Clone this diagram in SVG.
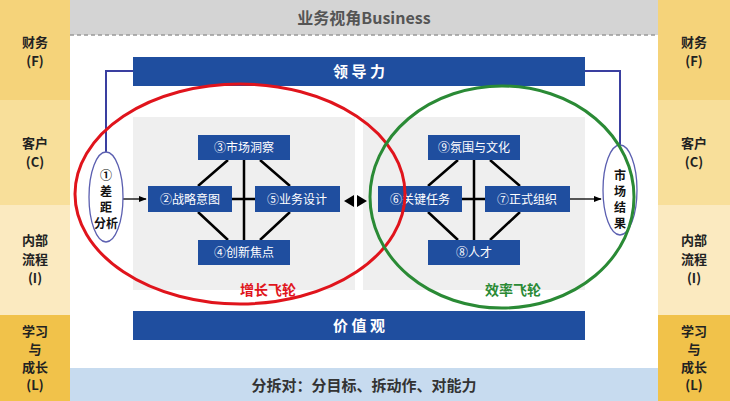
<svg xmlns="http://www.w3.org/2000/svg" width="730" height="401" viewBox="0 0 730 401">
<defs>
<marker id="ar" viewBox="0 0 10 10" refX="9" refY="5" markerWidth="6" markerHeight="6" orient="auto"><path d="M0,1L10,5L0,9z" fill="#000"/></marker>
<style>
text{font-family:"Noto Sans CJK SC","Noto Sans",sans-serif;font-weight:bold;text-anchor:middle}
.side{font-size:13px;fill:#222}
.nd{fill:#1f4e9f}
.nt{fill:#fff;font-size:12px;font-weight:normal}
.bar{fill:#1f4e9f}
.ln{stroke:#000;stroke-width:2.5}
.bl{stroke:#3a3fa0;stroke-width:2;fill:none}
</style>
</defs>
<rect width="730" height="401" fill="#fff"/>
<g id="left-col">
<rect x="0" y="0" width="70" height="100" fill="#f5d37a"/>
<rect x="0" y="100" width="70" height="105" fill="#f8df9a"/>
<rect x="0" y="205" width="70" height="110" fill="#fbeac0"/>
<rect x="0" y="315" width="70" height="86" fill="#f1c24a"/>
<text class="side" x="35" y="47">财务</text><text class="side" x="35" y="66">(F)</text>
<text class="side" x="35" y="148">客户</text><text class="side" x="35" y="167">(C)</text>
<text class="side" x="35" y="245">内部</text><text class="side" x="35" y="264">流程</text><text class="side" x="35" y="283">(I)</text>
<text class="side" x="35" y="336">学习</text><text class="side" x="35" y="354">与</text><text class="side" x="35" y="372">成长</text><text class="side" x="35" y="390">(L)</text>
</g>
<g id="right-col">
<rect x="658" y="0" width="72" height="100" fill="#f5d37a"/>
<rect x="658" y="100" width="72" height="105" fill="#f8df9a"/>
<rect x="658" y="205" width="72" height="110" fill="#fbeac0"/>
<rect x="658" y="315" width="72" height="86" fill="#f1c24a"/>
<text class="side" x="694" y="47">财务</text><text class="side" x="694" y="66">(F)</text>
<text class="side" x="694" y="148">客户</text><text class="side" x="694" y="167">(C)</text>
<text class="side" x="694" y="245">内部</text><text class="side" x="694" y="264">流程</text><text class="side" x="694" y="283">(I)</text>
<text class="side" x="694" y="336">学习</text><text class="side" x="694" y="354">与</text><text class="side" x="694" y="372">成长</text><text class="side" x="694" y="390">(L)</text>
</g>
<g id="top-band">
<rect x="70" y="0" width="588" height="35" fill="#d4d4d4"/>
<line x1="70" y1="35" x2="658" y2="35" stroke="#999" stroke-dasharray="4,3" stroke-width="1.5"/>
<text x="364" y="24" font-size="16" fill="#555">业务视角Business</text>
</g>
<g id="bottom-band">
<rect x="70" y="368" width="588" height="33" fill="#c7dbef"/>
<text x="364" y="391" font-size="15" fill="#333">分拆对：分目标、拆动作、对能力</text>
</g>
<g id="panels">
<rect x="133" y="117" width="222" height="173" fill="#efefef"/>
<rect x="363" y="117" width="222" height="173" fill="#efefef"/>
</g>
<g id="connectors">
<path class="bl" d="M106,152V71H133"/>
<path class="bl" d="M620,146V71H585"/>
<path class="ln" d="M228,160L198,186M260,160L290,186M198,212L228,240M290,212L260,240M244,160V240M232,199H255"/>
<path class="ln" d="M458,160L428,186M490,160L520,186M428,212L458,240M520,212L490,240M474,160V240M462,199H485"/>
<line x1="123" y1="199" x2="146" y2="199" stroke="#000" stroke-width="1.3" marker-end="url(#ar)"/>
<line x1="570" y1="199" x2="601" y2="199" stroke="#000" stroke-width="1.3" marker-end="url(#ar)"/>
<path d="M344,201L354,195V207z M367,201L357,195V207z" fill="#000"/>
</g>
<g id="leadership"><rect class="bar" x="133" y="57" width="452" height="29"/><text x="359" y="77" font-size="15" fill="#fff">领 导 力</text></g>
<g id="values"><rect class="bar" x="133" y="311" width="452" height="29"/><text x="359" y="331" font-size="15" fill="#fff">价 值 观</text></g>
<g id="n3"><rect class="nd" x="198" y="135" width="92" height="25"/><text class="nt" x="244" y="152">③市场洞察</text></g>
<g id="n2"><rect class="nd" x="148" y="186" width="84" height="26"/><text class="nt" x="190" y="204">②战略意图</text></g>
<g id="n5"><rect class="nd" x="255" y="186" width="85" height="26"/><text class="nt" x="297" y="204">⑤业务设计</text></g>
<g id="n4"><rect class="nd" x="198" y="240" width="92" height="25"/><text class="nt" x="244" y="257">④创新焦点</text></g>
<g id="n9"><rect class="nd" x="428" y="135" width="92" height="25"/><text class="nt" x="474" y="152">⑨氛围与文化</text></g>
<g id="n6"><rect class="nd" x="378" y="186" width="84" height="26"/><text class="nt" x="420" y="204">⑥关键任务</text></g>
<g id="n7"><rect class="nd" x="485" y="186" width="85" height="26"/><text class="nt" x="527" y="204">⑦正式组织</text></g>
<g id="n8"><rect class="nd" x="428" y="240" width="92" height="25"/><text class="nt" x="474" y="257">⑧人才</text></g>
<g id="gap"><ellipse cx="106" cy="197" rx="17" ry="45" fill="#fff" stroke="#5b5fb0" stroke-width="1.3"/>
<text x="106" y="180" font-size="12" fill="#111">①</text><text x="106" y="196" font-size="12" fill="#111">差</text><text x="106" y="212" font-size="12" fill="#111">距</text><text x="106" y="228" font-size="12" fill="#111">分析</text></g>
<g id="result"><ellipse cx="620" cy="190" rx="17" ry="45" fill="#fff" stroke="#5b5fb0" stroke-width="1.3"/>
<text x="620" y="180" font-size="12" fill="#111">市</text><text x="620" y="196" font-size="12" fill="#111">场</text><text x="620" y="212" font-size="12" fill="#111">结</text><text x="620" y="228" font-size="12" fill="#111">果</text></g>
<g id="flywheels">
<ellipse cx="240" cy="194" rx="165" ry="110" fill="none" stroke="#e0141c" stroke-width="3"/>
<ellipse cx="502" cy="197" rx="132" ry="111" fill="none" stroke="#2a8a35" stroke-width="3"/>
<text x="268" y="295" font-size="14" fill="#e0141c">增长飞轮</text>
<text x="513" y="295" font-size="14" fill="#2a8a35">效率飞轮</text>
</g>
</svg>
